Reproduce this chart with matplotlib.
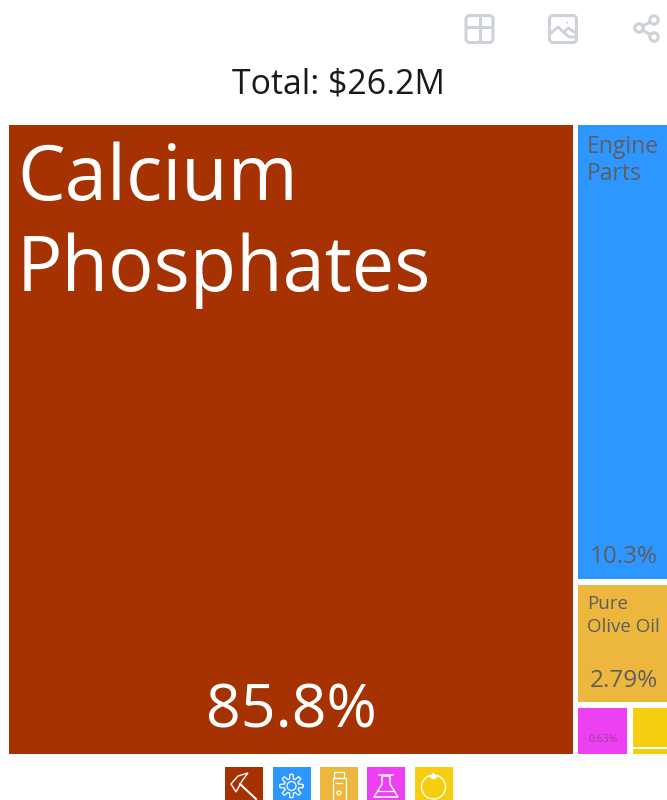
import numpy as np
import matplotlib
matplotlib.use("Agg")
import matplotlib.pyplot as plt
from matplotlib.patches import Rectangle, Circle, FancyBboxPatch, Polygon

# treemap data (share of total in %)
shares = [85.8, 10.3, 2.79, 0.63, 0.42, 0.06]
share_labels = ["85.8%", "10.3%", "2.79%", "0.63%"]
colors = ["#A53200", "#2E97FF", "#EDB73E", "#ED40F2", "#F4CE0F", "#F4CE0F"]
legend_colors = ["#A53200", "#2E97FF", "#EDB73E", "#ED40F2", "#F4CE0F"]
title = "Total: $26.2M"

plt.rcParams['font.family'] = ['Open Sans', 'DejaVu Sans']

fig = plt.figure(figsize=(6.67, 8), dpi=100)
ax = fig.add_axes([0, 0, 1, 1])
ax.set_xlim(0, 667)
ax.set_ylim(800, 0)
ax.axis('off')

# treemap area in pixels
X0, X1, Y0, Y1 = 8.5, 667, 124.5, 754
# cut direction for each step of the layout, v = side by side, h = stacked
cuts = ["v", "h", "h", "v", "h"]
# white gap per cell: left, top, right, bottom
gaps = [(0, 0, 0, 0), (5, 0, 0, 2.3), (5, 3.5, 0, 2.5), (5, 3.5, 0, 0), (6, 3.5, 0, 1), (6, 1, 0, 0)]


def slice_area(vals, x0, x1, y0, y1, dirs):
    # first value takes its share, the rest goes on in the remainder
    if len(vals) == 1:
        return [(x0, y0, x1, y1)]
    frac = vals[0] / sum(vals)
    if dirs[0] == "v":
        c = x0 + (x1 - x0) * frac
        return [(x0, y0, c, y1)] + slice_area(vals[1:], c, x1, y0, y1, dirs[1:])
    c = y0 + (y1 - y0) * frac
    return [(x0, y0, x1, c)] + slice_area(vals[1:], x0, x1, c, y1, dirs[1:])


boxes = slice_area(shares, X0, X1, Y0, Y1, cuts)

for (x0, y0, x1, y1), (gl, gt, gr, gb), c in zip(boxes, gaps, colors):
    ax.add_patch(Rectangle((x0 + gl, y0 + gt), x1 - x0 - gl - gr, y1 - y0 - gt - gb, fc=c, ec='none'))

# cell labels
ax.text(17, 200, "Calcium", fontsize=54.5, color='white', va='baseline')
ax.text(17, 291, "Phosphates", fontsize=54.5, color='white', va='baseline')
ax.text(291, 728, share_labels[0], fontsize=43.8, color='white', ha='center', va='baseline')

grey = "#5E5E5E"
ax.text(587, 153, "Engine", fontsize=16.5, color=grey, va='baseline')
ax.text(587, 180, "Parts", fontsize=16.5, color=grey, va='baseline')
ax.text(624, 563, share_labels[1], fontsize=17.5, color=grey, ha='center', va='baseline')
ax.text(587, 609, "Pure", fontsize=13.5, color=grey, va='baseline')
ax.text(587, 632, "Olive Oil", fontsize=13.5, color=grey, va='baseline')
ax.text(624, 687, share_labels[2], fontsize=17.5, color=grey, ha='center', va='baseline')
ax.text(603, 742, share_labels[3], fontsize=7.5, color="#97409B", ha='center', va='baseline')

ax.text(338, 94, title, fontsize=24.4, color='#1a1a1a', ha='center', va='baseline')

# toolbar icons
ic = "#CDD1D8"
ax.add_patch(FancyBboxPatch((466, 15.5), 27, 27, boxstyle="round,pad=0,rounding_size=4", fc='none', ec=ic, lw=2.2))
ax.plot([466, 493], [27, 27], color=ic, lw=2.2, solid_capstyle='butt')
ax.plot([479.5, 479.5], [15.5, 42.5], color=ic, lw=2.2, solid_capstyle='butt')
ax.add_patch(FancyBboxPatch((549.5, 15.5), 27, 27, boxstyle="round,pad=0,rounding_size=4", fc='none', ec=ic, lw=2.2))
ax.plot([550, 558, 569, 576], [34, 27, 37, 37], color=ic, lw=2, solid_capstyle='butt')
ax.plot([564, 568, 576], [32, 28, 33], color=ic, lw=2, solid_capstyle='butt')
ax.add_patch(Circle((567, 22.5), 1, fc=ic, ec='none'))
ax.plot([654, 639, 654], [20, 28, 37], color=ic, lw=2.2)
for cx, cy in [(654, 20), (639, 28), (654, 37)]:
    ax.add_patch(Circle((cx, cy), 4.2, fc='white', ec=ic, lw=2.2, zorder=3))

# legend squares at the bottom
lx = [225, 272.5, 320, 367, 415]
for x, c in zip(lx, legend_colors):
    ax.add_patch(Rectangle((x, 767), 38, 38, fc=c, ec='none'))

w = 'white'
# pickaxe
ax.plot([240, 256], [784, 799], color=w, lw=1.5)
ax.add_patch(Polygon([[231, 784], [238, 776], [248, 773], [242, 781], [236, 792]], closed=True, fc='none', ec=w, lw=1))
# gear outline
ang = np.linspace(0, 2 * np.pi, 97)
rad = 9.5 + 2.2 * np.clip(3 * np.cos(8 * ang), -1, 1)
ax.plot(291.5 + rad * np.cos(ang), 786 + rad * np.sin(ang), color=w, lw=0.9)
ax.add_patch(Circle((291.5, 786), 4.5, fc='none', ec=w, lw=0.9))
# bottle
ax.add_patch(Rectangle((334, 772), 10, 6, fc='none', ec=w, lw=0.9))
ax.add_patch(Rectangle((332.5, 778), 13, 24, fc='none', ec=w, lw=0.9))
ax.plot([336, 342], [783, 783], color=w, lw=0.9)
ax.add_patch(Circle((339, 793), 2, fc='none', ec=w, lw=0.9))
# flask
ax.add_patch(Polygon([[382, 776], [382, 784], [374, 797], [398, 797], [390, 784], [390, 776]], closed=True, fc='none', ec=w, lw=1.1))
ax.plot([379, 393], [775, 775], color=w, lw=1.1)
ax.plot([378, 394], [791, 791], color=w, lw=0.9)
# orange
ax.add_patch(Circle((433.5, 787), 12, fc='none', ec=w, lw=1))
ax.add_patch(Polygon([[433.5, 772], [435, 775], [439, 775], [436.5, 778], [433.5, 779.5], [430.5, 778], [428, 775], [432, 775]], closed=True, fc=w, ec='none'))

fig.savefig("out.png", dpi=100)
